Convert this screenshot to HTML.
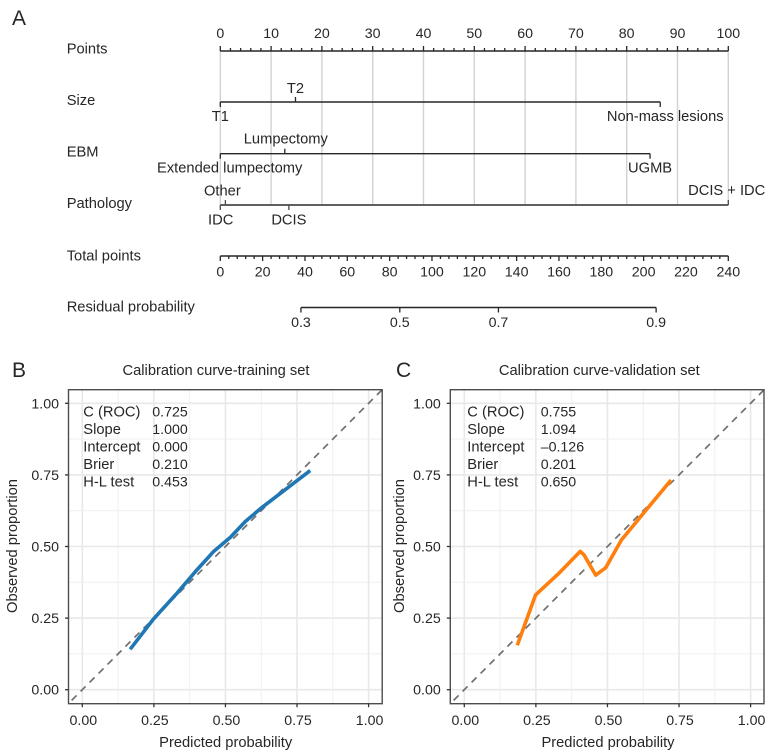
<!DOCTYPE html>
<html>
<head>
<meta charset="utf-8">
<title>Nomogram and calibration curves</title>
<style>
html,body{margin:0;padding:0;background:#fff;width:774px;height:753px;overflow:hidden}
svg{display:block}
text{font-family:"Liberation Sans",Arial,sans-serif;font-size:14.7px;fill:#262626}
</style>
</head>
<body>
<svg id="fig" xmlns="http://www.w3.org/2000/svg" width="774" height="753" viewBox="0 0 774 753">
  <rect x="0" y="0" width="774" height="753" fill="#fff"/>
  <defs>
    <clipPath id="clipB"><rect x="68.5" y="389.7" width="313.5" height="314"/></clipPath>
    <clipPath id="clipC"><rect x="450.3" y="389.7" width="314" height="314"/></clipPath>
  </defs>
  <text x="12" y="25" style="font-size:21px">A</text>
  <text x="12" y="377" style="font-size:21px">B</text>
  <text x="396" y="377" style="font-size:21px">C</text>
  <g id="nomogram"></g>
  <g id="panelB"></g>
  <g id="panelC"></g>
</svg>
<script>
// Nomogram data (values in points)
const pointsTickLabels = [0, 10, 20, 30, 40, 50, 60, 70, 80, 90, 100];
const totalTickLabels = [0, 20, 40, 60, 80, 100, 120, 140, 160, 180, 200, 220, 240];
const nomogramRows = ['Points', 'Size', 'EBM', 'Pathology', 'Total points', 'Residual probability'];
const sizeLevels = ['T1', 'T2', 'Non-mass lesions'];
const sizePoints = [0, 14.8, 86.6];
const ebmLevels = ['Extended lumpectomy', 'Lumpectomy', 'UGMB'];
const ebmPoints = [0, 12.7, 84.6];
const pathologyLevels = ['IDC', 'Other', 'DCIS', 'DCIS + IDC'];
const pathologyPoints = [0, 1, 13.5, 100];
const residualLabels = ['0.3', '0.5', '0.7', '0.9'];
const residualTotalPoints = [38.1, 84.8, 131.4, 205.9];

// Calibration data
const calibrationTicks = ['0.00', '0.25', '0.50', '0.75', '1.00'];
const trainPredicted = [0.167, 0.248, 0.33, 0.40, 0.458, 0.517, 0.569, 0.627, 0.703, 0.796];
const trainObserved = [0.141, 0.246, 0.336, 0.418, 0.482, 0.532, 0.587, 0.636, 0.694, 0.765];
const validPredicted = [0.185, 0.249, 0.328, 0.405, 0.418, 0.459, 0.494, 0.549, 0.619, 0.722];
const validObserved = [0.155, 0.331, 0.404, 0.483, 0.471, 0.400, 0.426, 0.523, 0.608, 0.732];
const statNames = ['C (ROC)', 'Slope', 'Intercept', 'Brier', 'H-L test'];
const trainStats = ['0.725', '1.000', '0.000', '0.210', '0.453'];
const validStats = ['0.755', '1.094', '\u20130.126', '0.201', '0.650'];

const NS = 'http://www.w3.org/2000/svg';
function line(parent, x1, y1, x2, y2, stroke, width) {
  const el = document.createElementNS(NS, 'line');
  el.setAttribute('x1', x1);
  el.setAttribute('y1', y1);
  el.setAttribute('x2', x2);
  el.setAttribute('y2', y2);
  el.setAttribute('stroke', stroke);
  el.setAttribute('stroke-width', width);
  parent.appendChild(el);
  return el;
}
function label(parent, x, y, str, anchor) {
  const el = document.createElementNS(NS, 'text');
  el.setAttribute('x', x);
  el.setAttribute('y', y + 5);
  el.setAttribute('text-anchor', anchor || 'middle');
  if (/^[\d\u2013]/.test(str)) el.style.fontSize = '14.2px';
  el.textContent = str;
  parent.appendChild(el);
  return el;
}

// ---------- Nomogram ----------
const nomo = document.getElementById('nomogram');
const xPoints = p => 220.3 + p * 5.08;
const xTotal = t => 220.3 + t * 508 / 240;
const INK = '#262626';

pointsTickLabels.forEach(p => {
  const g = line(nomo, xPoints(p), 51, xPoints(p), 205, '#d2d2d2', 1.4);
  
  
});

nomogramRows.forEach((name, i) => {
  const rowY = [48.3, 100, 151.7, 203, 255.3, 306.7][i];
  const t = label(nomo, 66.7, rowY, name, 'start');
  
  
});

// Points axis
let el = line(nomo, xPoints(pointsTickLabels[0]), 51, xPoints(pointsTickLabels[pointsTickLabels.length - 1]), 51, INK, 1.5);


for (let p = pointsTickLabels[0]; p <= pointsTickLabels[pointsTickLabels.length - 1]; p += 2) {
  const major = p % 10 === 0;
  const tk = line(nomo, xPoints(p), 51, xPoints(p), major ? 46 : 48, INK, 1.3);
  
  
}
pointsTickLabels.forEach(p => {
  const t = label(nomo, xPoints(p), 33, String(p));
  
  
});

// Categorical axes
function categoryAxis(rowName, y, points, levels, stroke, width, placements) {
  const a = line(nomo, xPoints(Math.min(...points)), y, xPoints(Math.max(...points)), y, stroke, width);
  
  
  levels.forEach((lv, i) => {
    const pl = placements[i];
    const dir = pl.up ? -1 : 1;
    const tk = line(nomo, xPoints(points[i]), y, xPoints(points[i]), y + dir * 5, stroke, 1.3);
    
    
    const t = label(nomo, xPoints(points[i]) + pl.dx, y + dir * pl.gap, lv);
    
    
  });
}
categoryAxis('size', 102, sizePoints, sizeLevels, INK, 1.4, [
  {up: false, dx: 0, gap: 14},
  {up: true, dx: 0, gap: 14},
  {up: false, dx: 5, gap: 14}
]);
categoryAxis('ebm', 153.7, ebmPoints, ebmLevels, INK, 1.4, [
  {up: false, dx: 9.4, gap: 14},
  {up: true, dx: 1, gap: 15},
  {up: false, dx: 0, gap: 14}
]);
categoryAxis('pathology', 205, pathologyPoints, pathologyLevels, '#4a4a4a', 1.7, [
  {up: false, dx: 0.4, gap: 14.7},
  {up: true, dx: -3, gap: 14.3},
  {up: false, dx: 0, gap: 14.7},
  {up: true, dx: -1.6, gap: 15}
]);

// Total points axis
el = line(nomo, xTotal(totalTickLabels[0]), 256, xTotal(totalTickLabels[totalTickLabels.length - 1]), 256, INK, 1.5);


for (let v = totalTickLabels[0]; v <= totalTickLabels[totalTickLabels.length - 1]; v += 4) {
  const major = v % 20 === 0;
  const tk = line(nomo, xTotal(v), 256, xTotal(v), major ? 261 : 259, INK, 1.3);
  
  
}
totalTickLabels.forEach(v => {
  const t = label(nomo, xTotal(v), 271.7, String(v));
  
  
});

// Residual probability axis
el = line(nomo, xTotal(residualTotalPoints[0]), 307.5, xTotal(residualTotalPoints[residualTotalPoints.length - 1]), 307.5, INK, 1.5);


residualTotalPoints.forEach((v, i) => {
  const tk = line(nomo, xTotal(v), 307.5, xTotal(v), 312.5, INK, 1.3);
  
  
  const t = label(nomo, xTotal(v), 322, residualLabels[i]);
  
  
});

// ---------- Calibration panels ----------
function calibrationPanel(gid, opt, xsData, ysData, stats) {
  const g = document.getElementById(gid);
  const sx = v => opt.x0 + v * 286.3;
  const sy = v => 689.7 - v * 286.4;
  const L = opt.left, R = opt.left + 313.7, T = 389.7, B = 703.7;
  const steps = [];
  for (let i = 0; i <= 8; i++) steps.push(i / 8);

  steps.forEach((v, i) => {
    const major = i % 2 === 0;
    const gx = line(g, sx(v), T, sx(v), B, major ? '#e8e8e8' : '#efefef', major ? 1.6 : 1);
    
    
    const gy = line(g, L, sy(v), R, sy(v), major ? '#e8e8e8' : '#efefef', major ? 1.6 : 1);
    
    
  });

  const diag = line(g, sx(-0.1), sy(-0.1), sx(1.1), sy(1.1), '#707070', 1.7);
  diag.setAttribute('stroke-dasharray', '7 5.7');
  diag.setAttribute('clip-path', 'url(#' + opt.clip + ')');
  
  

  const curve = document.createElementNS(NS, 'polyline');
  curve.setAttribute('points', xsData.map((v, i) => sx(v).toFixed(2) + ',' + sy(ysData[i]).toFixed(2)).join(' '));
  curve.setAttribute('fill', 'none');
  curve.setAttribute('stroke', opt.color);
  curve.setAttribute('stroke-width', 3.6);
  curve.setAttribute('stroke-linejoin', 'round');
  
  
  g.appendChild(curve);

  const frame = document.createElementNS(NS, 'rect');
  frame.setAttribute('x', L);
  frame.setAttribute('y', T);
  frame.setAttribute('width', R - L);
  frame.setAttribute('height', B - T);
  frame.setAttribute('fill', 'none');
  frame.setAttribute('stroke', '#4d4d4d');
  frame.setAttribute('stroke-width', 1.4);
  
  
  g.appendChild(frame);

  calibrationTicks.forEach(s => {
    const v = parseFloat(s);
    const tx = line(g, sx(v), B, sx(v), B + 3.5, '#333', 1.3);
    
    
    const ty = line(g, L, sy(v), L - 3.5, sy(v), '#333', 1.3);
    
    
    const lx = label(g, sx(v) + 1, 720, s);
    
    
    const ly = label(g, L - 9.5, sy(v), s, 'end');
    
    
  });

  const title = label(g, opt.titleX, 370, opt.title);
  
  
  const xt = label(g, opt.xTitleX, 742, 'Predicted probability');
  
  
  const yt = label(g, 0, 0, 'Observed proportion');
  yt.setAttribute('y', 0);
  yt.setAttribute('dominant-baseline', 'central');
  yt.setAttribute('transform', 'translate(' + opt.yTitleX + ',546) rotate(-90)');
  
  

  statNames.forEach((n, i) => {
    const rowY = 411.7 + i * 17.4;
    const a = label(g, opt.statX, rowY, n, 'start');
    
    
    const b = label(g, opt.valX, rowY, stats[i], 'start');
    
    
  });
}

calibrationPanel('panelB', {
  left: 68.5, x0: 82.3, clip: 'clipB', color: '#1f77b4',
  title: 'Calibration curve-training set', titleX: 216, xTitleX: 225.7, yTitleX: 13,
  statX: 83.3, valX: 152.3
}, trainPredicted, trainObserved, trainStats);

calibrationPanel('panelC', {
  left: 450.3, x0: 464.3, clip: 'clipC', color: '#ff7f0e',
  title: 'Calibration curve-validation set', titleX: 599.3, xTitleX: 608, yTitleX: 400,
  statX: 467.3, valX: 540.7
}, validPredicted, validObserved, validStats);
</script>
</body>
</html>
